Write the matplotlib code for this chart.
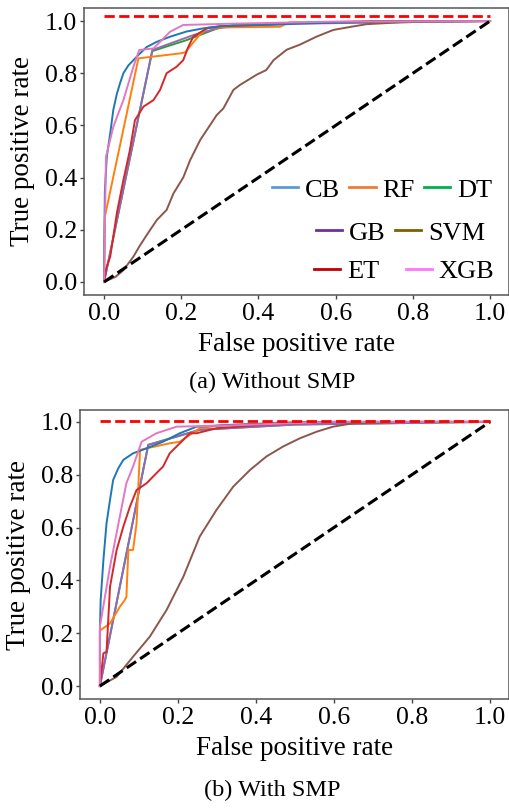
import matplotlib
matplotlib.use('Agg')
import matplotlib.pyplot as plt
from matplotlib.lines import Line2D

plt.rcParams['font.family'] = ['Liberation Serif', 'DejaVu Serif']

# ---- data: (a) without SMP ----
a_cb_x = [0, 0.001, 0.002, 0.007, 0.016, 0.024, 0.033, 0.041, 0.05, 0.063, 0.076, 0.093, 0.11, 0.136, 0.171, 0.214, 0.257, 0.3, 0.5, 0.7, 1.0]
a_cb_y = [0, 0.2, 0.345, 0.48, 0.57, 0.66, 0.72, 0.76, 0.80, 0.83, 0.85, 0.876, 0.90, 0.92, 0.94, 0.96, 0.972, 0.98, 0.99, 0.998, 1.0]
a_rf_x = [0, 0.002, 0.089, 0.197, 0.21, 0.249, 0.27, 0.456, 0.48, 1.0]
a_rf_y = [0, 0.25, 0.857, 0.876, 0.88, 0.95, 0.975, 0.978, 0.995, 1.0]
a_dt_x = [0, 0.125, 0.214, 0.29, 0.335, 0.5, 1.0]
a_dt_y = [0, 0.885, 0.927, 0.97, 0.985, 0.993, 1.0]
a_gb_x = [0, 0.125, 0.231, 0.3, 0.5, 1.0]
a_gb_y = [0, 0.889, 0.946, 0.975, 0.99, 1.0]
a_svm_x = [0, 0.03, 0.05, 0.076, 0.093, 0.115, 0.137, 0.162, 0.18, 0.205, 0.223, 0.249, 0.266, 0.292, 0.309, 0.335, 0.352, 0.396, 0.42, 0.439, 0.473, 0.508, 0.55, 0.594, 0.64, 0.68, 0.767, 0.85, 1.0]
a_svm_y = [0, 0.02, 0.045, 0.097, 0.14, 0.19, 0.238, 0.276, 0.34, 0.40, 0.467, 0.544, 0.582, 0.64, 0.665, 0.736, 0.755, 0.795, 0.812, 0.85, 0.89, 0.91, 0.94, 0.966, 0.978, 0.988, 0.995, 0.998, 1.0]
a_et_x = [0, 0.005, 0.016, 0.033, 0.05, 0.067, 0.08, 0.102, 0.128, 0.145, 0.162, 0.188, 0.205, 0.218, 0.231, 0.266, 0.3, 0.45, 0.7, 1.0]
a_et_y = [0, 0.05, 0.097, 0.263, 0.39, 0.506, 0.62, 0.672, 0.697, 0.736, 0.80, 0.825, 0.85, 0.90, 0.94, 0.972, 0.98, 0.99, 1.0, 1.0]
a_xgb_x = [0, 0.003, 0.005, 0.024, 0.05, 0.076, 0.091, 0.128, 0.171, 0.205, 0.335, 0.6, 1.0]
a_xgb_y = [0, 0.3, 0.48, 0.595, 0.697, 0.825, 0.889, 0.895, 0.959, 0.985, 0.99, 0.998, 1.0]

# ---- data: (b) with SMP ----
b_cb_x = [0, 0.0, 0.002, 0.009, 0.017, 0.026, 0.034, 0.047, 0.06, 0.085, 0.12, 0.162, 0.205, 0.248, 0.35, 0.6, 1.0]
b_cb_y = [0, 0.21, 0.326, 0.477, 0.616, 0.705, 0.78, 0.824, 0.856, 0.881, 0.90, 0.925, 0.957, 0.982, 0.99, 1.0, 1.0]
b_rf_x = [0, 0.0, 0.026, 0.051, 0.064, 0.068, 0.073, 0.085, 0.094, 0.103, 0.12, 0.179, 0.205, 0.256, 0.3, 0.5, 1.0]
b_rf_y = [0, 0.21, 0.237, 0.30, 0.326, 0.338, 0.515, 0.515, 0.616, 0.894, 0.90, 0.919, 0.925, 0.976, 0.985, 1.0, 1.0]
b_dt_x = [0, 0.124, 0.256, 0.5, 1.0]
b_dt_y = [0, 0.913, 0.97, 0.99, 1.0]
b_gb_x = [0, 0.124, 0.256, 0.5, 1.0]
b_gb_y = [0, 0.913, 0.97, 0.99, 1.0]
b_svm_x = [0, 0.043, 0.085, 0.128, 0.171, 0.214, 0.256, 0.299, 0.342, 0.385, 0.427, 0.47, 0.513, 0.556, 0.598, 0.65, 0.8, 1.0]
b_svm_y = [0, 0.035, 0.111, 0.187, 0.288, 0.414, 0.566, 0.667, 0.755, 0.818, 0.869, 0.907, 0.938, 0.963, 0.982, 0.995, 1.0, 1.0]
b_et_x = [0, 0.009, 0.017, 0.026, 0.043, 0.06, 0.077, 0.094, 0.12, 0.145, 0.162, 0.179, 0.205, 0.231, 0.248, 0.299, 0.427, 0.6, 1.0]
b_et_y = [0, 0.124, 0.13, 0.376, 0.515, 0.603, 0.679, 0.742, 0.768, 0.806, 0.831, 0.881, 0.919, 0.957, 0.957, 0.976, 0.99, 1.0, 1.0]
b_xgb_x = [0, 0.0, 0.026, 0.051, 0.068, 0.085, 0.107, 0.145, 0.197, 0.3, 0.6, 1.0]
b_xgb_y = [0, 0.225, 0.452, 0.641, 0.768, 0.831, 0.925, 0.957, 0.982, 0.985, 1.0, 1.0]

names = ['CB', 'RF', 'DT', 'GB', 'SVM', 'ET', 'XGB']
line_colors = ['#1f77b4', '#ff7f0e', '#2ca02c', '#9467bd', '#8c564b', '#d62728', '#e377c2']
legend_colors = ['#5b9bd5', '#ed7d31', '#00b050', '#7030a0', '#7f6000', '#c00000', '#ff77ff']
draw_order = ['DT', 'GB', 'SVM', 'RF', 'ET', 'CB', 'XGB']

curves_a = {'CB': (a_cb_x, a_cb_y), 'RF': (a_rf_x, a_rf_y), 'DT': (a_dt_x, a_dt_y),
            'GB': (a_gb_x, a_gb_y), 'SVM': (a_svm_x, a_svm_y), 'ET': (a_et_x, a_et_y),
            'XGB': (a_xgb_x, a_xgb_y)}
curves_b = {'CB': (b_cb_x, b_cb_y), 'RF': (b_rf_x, b_rf_y), 'DT': (b_dt_x, b_dt_y),
            'GB': (b_gb_x, b_gb_y), 'SVM': (b_svm_x, b_svm_y), 'ET': (b_et_x, b_et_y),
            'XGB': (b_xgb_x, b_xgb_y)}

ref_level_a = 1.02
ref_level_b = 1.004
ticks = [0.0, 0.2, 0.4, 0.6, 0.8, 1.0]

fig = plt.figure(figsize=(5.1, 8.08), dpi=100)
W, H = 510, 808
ax1 = fig.add_axes([84 / W, 1 - 295 / H, 425 / W, 287 / H])
ax2 = fig.add_axes([80 / W, 1 - 699 / H, 429 / W, 289 / H])


def draw_panel(ax, curves, ref_level, xlim, ylim):
    for name in draw_order:
        c = line_colors[names.index(name)]
        x, y = curves[name]
        ax.plot(x, y, color=c, lw=1.4)
    ax.plot([0, 1], [0, 1], color='black', lw=2.2, ls='--')
    ax.plot([0, 1], [ref_level, ref_level], color='red', lw=2.0, ls='--')
    ax.set_xlim(*xlim)
    ax.set_ylim(*ylim)
    ax.set_xticks(ticks)
    ax.set_yticks(ticks)
    ax.set_xticklabels(['%.1f' % t for t in ticks])
    ax.set_yticklabels(['%.1f' % t for t in ticks])
    ax.tick_params(direction='out', length=3, width=1, color='#444444',
                   labelsize=18.5, pad=2)
    ax.tick_params(axis='x', pad=3)
    for s in ax.spines.values():
        s.set_color('#555555')
        s.set_linewidth(1.1)
    ax.set_xlabel('False positive rate', fontsize=19.5, labelpad=5)
    ax.set_ylabel('True positive rate', fontsize=19.5, labelpad=7)


draw_panel(ax1, curves_a, ref_level_a, (-0.052, 1.049), (-0.05, 1.05))
draw_panel(ax2, curves_b, ref_level_b, (-0.051, 1.049), (-0.049, 1.045))

# legend, laid out in three rows like the original
rows = [(['CB', 'RF', 'DT'], 272, 190, 0.35),
        (['GB', 'SVM'], 316, 233, 0.35),
        (['ET', 'XGB'], 314, 271, 1.0)]
for labels, px, py, cs in rows:
    handles = [Line2D([], [], color=legend_colors[names.index(n)], lw=2.0) for n in labels]
    leg = fig.legend(handles, labels, loc='center left', bbox_to_anchor=(px / W, 1 - py / H),
                     ncol=len(labels), frameon=False, fontsize=19, handlelength=1.0,
                     handletextpad=0.25, columnspacing=cs, borderpad=0, borderaxespad=0)

fig.text(272 / W, 1 - 382 / H, '(a) Without SMP', ha='center', va='center', fontsize=17.5)
fig.text(272 / W, 1 - 790 / H, '(b) With SMP', ha='center', va='center', fontsize=17.5)

fig.savefig('out.png', dpi=100)
